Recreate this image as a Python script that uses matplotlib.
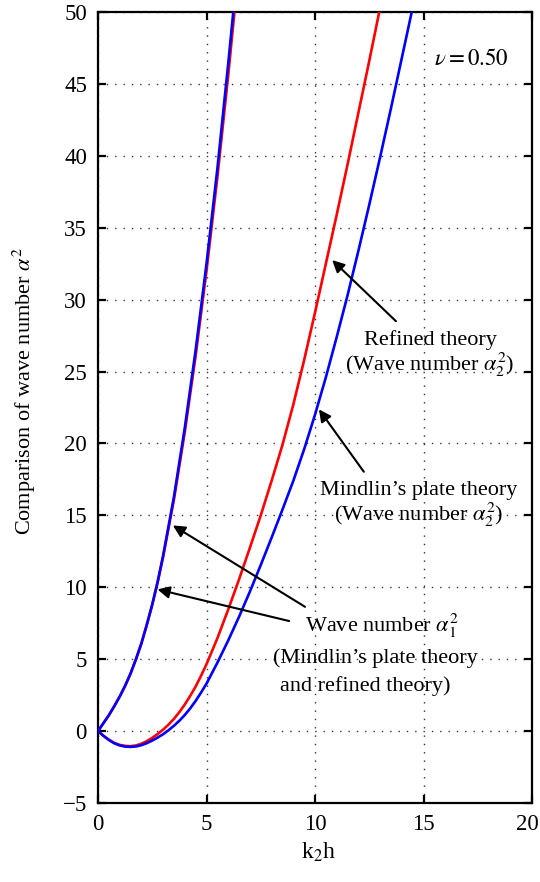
import matplotlib
matplotlib.use("Agg")
import matplotlib.pyplot as plt
from matplotlib.transforms import ScaledTranslation

plt.rcParams['font.family'] = ['Liberation Serif', 'DejaVu Serif']
plt.rcParams['mathtext.fontset'] = 'stix'

# wave number alpha_1^2 (steep branch), both theories
k1 = [0, 0.25, 0.5, 0.75, 1, 1.25, 1.5, 1.75, 2, 2.25, 2.5, 2.75, 3,
      3.5, 4, 4.5, 5, 5.5, 6, 6.3]
a1_mindlin = [0, 0.55, 1.1, 1.73, 2.4, 3.15, 4.0, 5.0, 6.1, 7.4, 8.8, 10.4, 12.2,
              16.3, 21.1, 26.5, 32.5, 39.1, 46.4, 51.0]
a1_refined = [0, 0.55, 1.1, 1.73, 2.4, 3.15, 4.0, 5.0, 6.1, 7.4, 8.8, 10.35, 12.1,
              16.1, 20.8, 26.1, 32.0, 38.5, 45.6, 50.2]

# wave number alpha_2^2, refined theory
k2_ref = [0, 0.25, 0.5, 0.75, 1, 1.25, 1.5, 1.75, 2, 2.25, 2.5, 2.75, 3,
          3.25, 3.5, 3.75, 4, 4.25, 4.5, 4.75, 5, 5.5, 6, 6.5, 7, 7.5, 8, 8.5,
          9, 9.5, 10, 10.5, 11, 11.5, 12, 12.5, 13, 13.2]
a2_refined = [0, -0.33, -0.6, -0.82, -0.96, -1.03, -1.05, -1.0, -0.88, -0.7,
              -0.47, -0.2, 0.1, 0.45, 0.85, 1.32, 1.85, 2.45, 3.1, 3.85, 4.65,
              6.45, 8.45, 10.55, 12.75, 15.0, 17.4, 19.9, 22.7, 25.8, 29.1,
              32.5, 35.9, 39.4, 43.0, 46.6, 50.3, 51.8]

# wave number alpha_2^2, Mindlin's plate theory
k2_min = [0, 0.25, 0.5, 0.75, 1, 1.25, 1.5, 1.75, 2, 2.25, 2.5, 2.75, 3,
          3.25, 3.5, 3.75, 4, 4.25, 4.5, 4.75, 5, 5.5, 6, 6.5, 7, 7.5, 8, 8.5,
          9, 9.5, 10, 10.5, 11, 11.5, 12, 12.5, 13, 13.5, 14, 14.5, 14.75]
a2_mindlin = [0, -0.33, -0.62, -0.85, -1.0, -1.08, -1.1, -1.07, -0.98, -0.84,
              -0.66, -0.45, -0.22, 0.06, 0.37, 0.72, 1.12, 1.58, 2.1, 2.68,
              3.3, 4.75, 6.3, 7.95, 9.7, 11.55, 13.45, 15.4, 17.4, 19.6,
              22.0, 24.6, 27.4, 30.3, 33.4, 36.6, 39.9, 43.3, 46.8, 50.3, 52.0]

xticks = [0, 5, 10, 15, 20]
yticks = [-5, 0, 5, 10, 15, 20, 25, 30, 35, 40, 45, 50]

fig = plt.figure(figsize=(5.4, 8.82), dpi=100)
ax = fig.add_axes([0.1815, 0.0896, 0.8037, 0.8968])

lw = 1.9
ax.plot(k1, a1_refined, color='#ff0000', lw=lw, zorder=3)
ax.plot(k1, a1_mindlin, color='#0000ff', lw=lw, zorder=4)
ax.plot(k2_ref, a2_refined, color='#ff0000', lw=lw, zorder=3)
ax.plot(k2_min, a2_mindlin, color='#0000ff', lw=lw, zorder=4)

ax.set_xlim(0, 20)
ax.set_ylim(-5, 50)
ax.set_xticks(xticks)
ax.set_yticks(yticks)
ax.grid(True, color='#333333', linestyle=(0, (1, 5)), linewidth=1.0)
ax.tick_params(direction='in', length=6, width=1.6, labelsize=16.5,
               top=True, right=True, pad=8)
for s in ax.spines.values():
    s.set_linewidth(1.6)

# last x tick label sits a bit to the left, as in the original
lab = ax.get_xticklabels()[-1]
lab.set_transform(lab.get_transform() + ScaledTranslation(-0.05, 0, fig.dpi_scale_trans))

fs = 16
arrow = dict(arrowstyle='-|>', color='black', lw=1.5, mutation_scale=18,
             shrinkA=0, shrinkB=0)

# refined theory, alpha_2^2
ax.annotate('', xy=(10.79, 32.75), xytext=(13.73, 28.5), arrowprops=arrow, zorder=5)
ax.text(15.32, 26.84, 'Refined theory', fontsize=fs, ha='center', va='baseline')
ax.text(15.28, 25.06, r'(Wave number $\alpha_2^2$)', fontsize=fs, ha='center', va='baseline')

# Mindlin, alpha_2^2
ax.annotate('', xy=(10.18, 22.37), xytext=(12.25, 18.03), arrowprops=arrow, zorder=5)
ax.text(14.77, 16.41, u'Mindlin\u2019s plate theory', fontsize=fs, ha='center', va='baseline')
ax.text(14.79, 14.63, r'(Wave number $\alpha_2^2$)', fontsize=fs, ha='center', va='baseline')

# alpha_1^2, both theories
ax.annotate('', xy=(3.45, 14.3), xytext=(9.54, 8.64), arrowprops=arrow, zorder=5)
ax.annotate('', xy=(2.74, 9.85), xytext=(8.81, 7.65), arrowprops=arrow, zorder=5)
ax.text(13.1, 6.9, r'Wave number $\alpha_1^2$', fontsize=fs, ha='center', va='baseline')
ax.text(12.78, 4.7, u'(Mindlin\u2019s plate theory', fontsize=fs, ha='center', va='baseline')
ax.text(12.32, 2.8, 'and refined theory)', fontsize=fs, ha='center', va='baseline')

ax.text(17.2, 46.3, r'$\nu = 0.50$', fontsize=16.5, ha='center', va='baseline')

ax.text(-0.17, 0.52, r'Comparison of wave number $\alpha^2$', fontsize=fs,
        rotation=90, ha='center', va='center', transform=ax.transAxes)
ax.text(0.509, -0.062, r'k$_2$h', fontsize=17, ha='center', va='center',
        transform=ax.transAxes)

fig.savefig('out.png', dpi=100)
